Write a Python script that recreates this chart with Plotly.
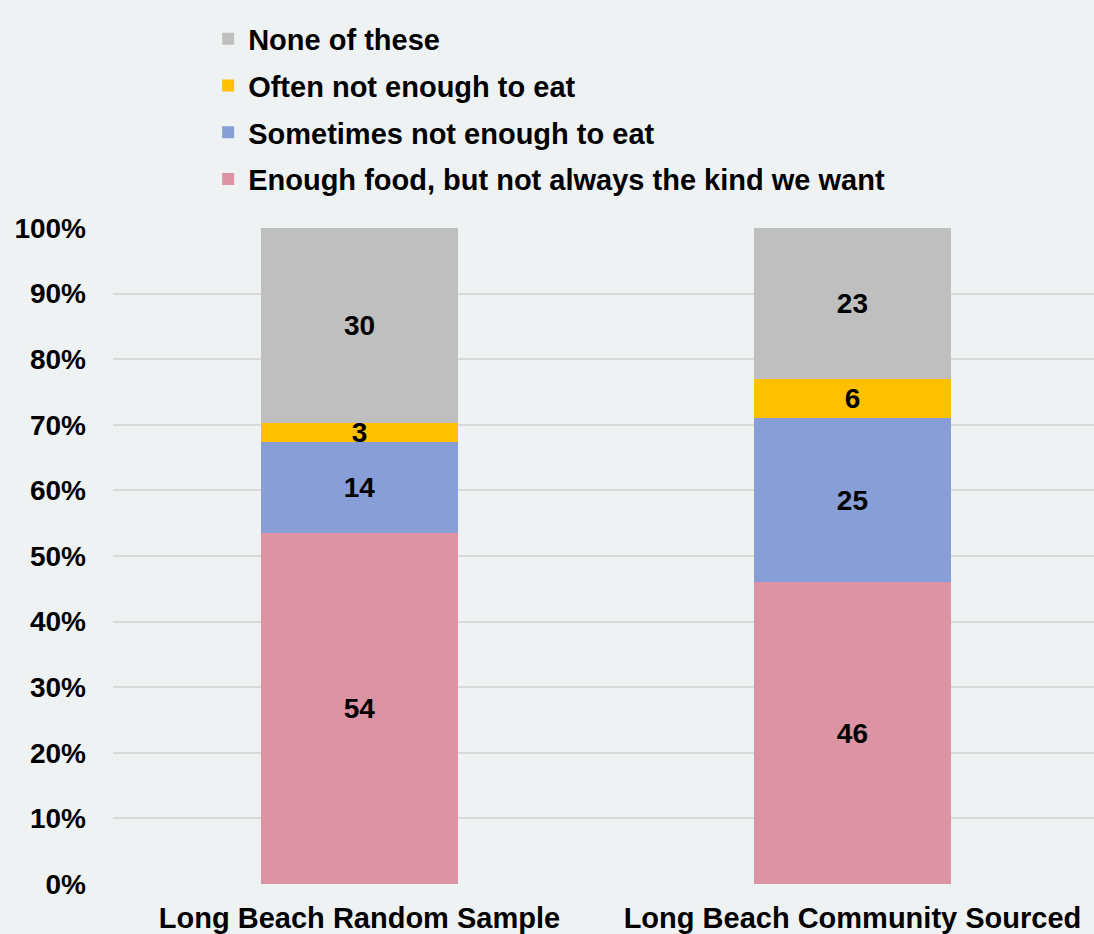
import plotly.graph_objects as go

categories = ["Long Beach Random Sample", "Long Beach Community Sourced"]
series_names = ["Enough food, but not always the kind we want",
                "Sometimes not enough to eat",
                "Often not enough to eat",
                "None of these"]
enough_kind = [54, 46]
sometimes = [14, 25]
often = [3, 6]
none_these = [30, 23]
series_values = [enough_kind, sometimes, often, none_these]
colors = ["#DC93A3", "#879ED6", "#FFC000", "#BFBFBF"]
y_ticks = [0, 10, 20, 30, 40, 50, 60, 70, 80, 90, 100]
y_tick_labels = [f"{v}%" for v in y_ticks]

FONT = "Liberation Sans, Arial, sans-serif"

fig = go.Figure()
n = len(series_names)
for i, (name, vals, col) in enumerate(zip(series_names, series_values, colors)):
    fig.add_trace(go.Bar(
        x=categories, y=vals, name=name, marker_color=col,
        marker_line_width=0, width=0.4,
        text=[str(v) for v in vals], texttemplate="%{text}",
        textposition="inside", insidetextanchor="middle", textangle=0,
        constraintext="none", cliponaxis=False,
        textfont=dict(family=FONT, size=28, color="black", weight="bold"),
        legendgroup=f"g{i}", legendrank=n - i,
    ))

fig.update_layout(
    width=1094, height=934,
    barmode="stack", barnorm="percent",
    paper_bgcolor="#EEF2F3", plot_bgcolor="#EEF2F3",
    margin=dict(l=113, r=0, t=228, b=50),
    font=dict(family=FONT, size=28, color="black", weight="bold"),
    legend=dict(
        x=0.097, y=1.327, xanchor="left", yanchor="top",
        traceorder="grouped", tracegroupgap=6,
        font=dict(family=FONT, size=29, color="black", weight="bold"),
        bgcolor="rgba(0,0,0,0)",
    ),
    showlegend=True,
)
fig.update_xaxes(range=[-0.5, 1.49], showgrid=False, zeroline=False,
                 showline=False, ticks="", ticklabelstandoff=14,
                 tickfont=dict(family=FONT, size=29, color="black", weight="bold"))
fig.update_yaxes(range=[0, 100], tickvals=y_ticks, ticktext=y_tick_labels,
                 showgrid=True, gridcolor="#D9D9D9", gridwidth=2,
                 zeroline=False, showline=False, ticks="",
                 ticklabelstandoff=26,
                 tickfont=dict(family=FONT, size=28, color="black", weight="bold"))

fig.write_html("out.html", config={"displayModeBar": False},
               post_script="document.body.style.margin='0';")
